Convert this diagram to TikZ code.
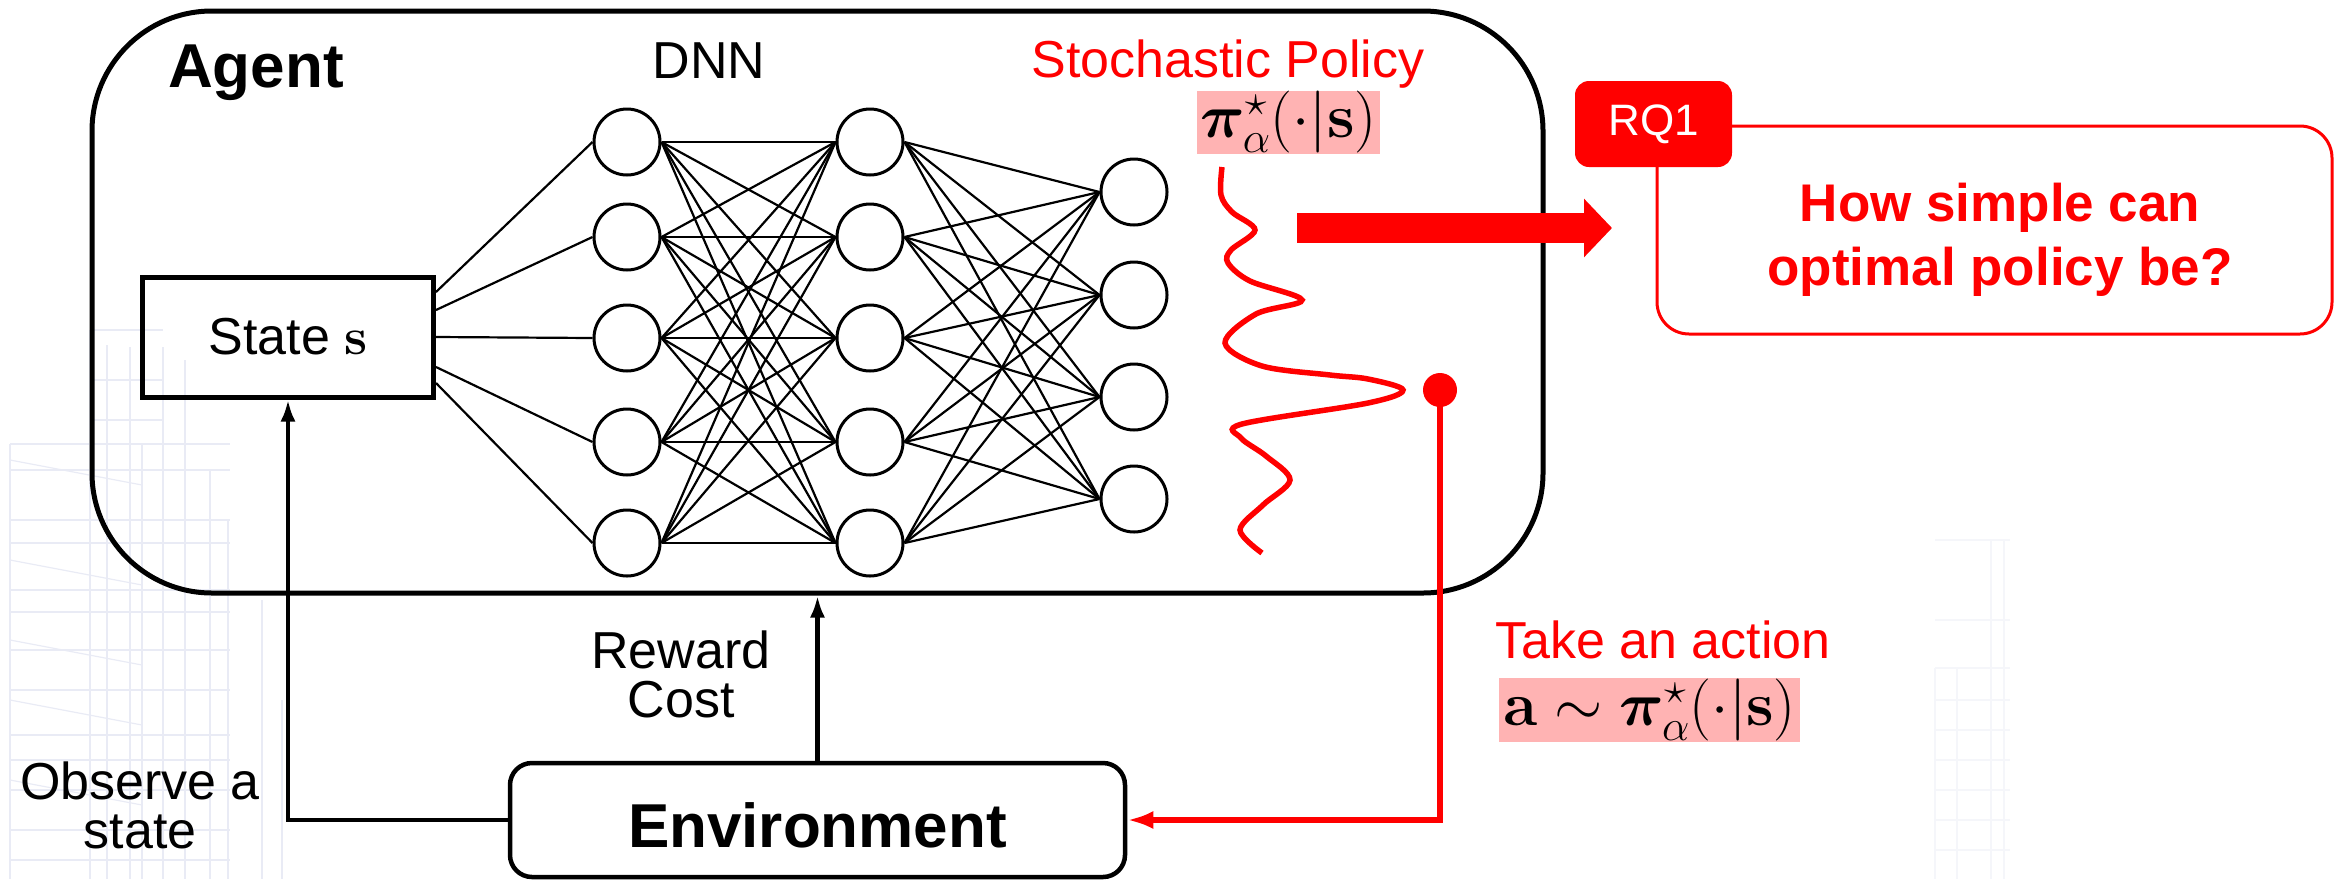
\RequirePackage{fix-cm}
\documentclass[tikz,border=0pt]{standalone}
\usepackage{amsmath,bm}
\usepackage[no-math]{fontspec}
\setmainfont{Liberation Sans}
\usetikzlibrary{arrows.meta,calc}
\definecolor{pinkbg}{RGB}{255,179,179}
\definecolor{wm}{RGB}{233,235,245}
\definecolor{wmr}{RGB}{245,246,250}
\begin{document}
\begin{tikzpicture}[x=1pt,y=-1pt,
  reg/.style={font=\fontsize{52}{49}\selectfont, inner sep=0},
  boldbig/.style={font=\bfseries\fontsize{62}{70}\selectfont, inner sep=0},
  boldq/.style={font=\bfseries\fontsize{53}{64}\selectfont, inner sep=0},
  mathbig/.style={font=\fontsize{62}{70}\selectfont},
  neuron/.style={circle, draw, line width=3, minimum size=66, inner sep=0, fill=white},
  conn/.style={line width=2.2},
  thick arrow/.style={line width=4.5, -{Latex[length=22,width=15]}},
  wmline/.style={draw=wm, line width=1.2},
  pinkbox/.style={fill=pinkbg, inner sep=0, mathbig}
]
\useasboundingbox (0,0) rectangle (2334,879);

% faint background watermark
\foreach \x/\t in {10/444, 90/330, 107/345, 130/347, 142/444, 163/347, 185/360, 210/470, 228/520, 262/600, 282/700}
  \draw[wmline] (\x,\t) -- (\x,879);
\foreach \y in {444,470,520,543,590,612,650,690,735,760,790,830,860}
  \draw[wmline] (10,\y) -- (230,\y);
\foreach \y in {330,380,420}
  \draw[wmline] (90,\y) -- (163,\y);
\foreach \y in {460,560,640,700,780}
  \draw[wmline] (10,\y) -- (142,\y+25);
\foreach \x/\t in {1935/668, 1957/668, 1991/540, 2004/540}
  \draw[draw=wmr, line width=1.2] (\x,\t) -- (\x,879);
\foreach \y in {540,620,668,700,730,760,790,820,850}
  \draw[draw=wmr, line width=1.2] (1935,\y) -- (2010,\y);

% agent box
\node[draw, line width=5, rounded corners=120, minimum width=1451, minimum height=582, inner sep=0] (agent) at (817.5,302) {};
\node[boldbig, anchor=base west] (agentlbl) at (168,87) {Agent};

% state box
\node[draw, line width=5, minimum width=291, minimum height=120, inner sep=0, reg] (state) at (288,337) {State $\mathbf{s}$};

% DNN
\node[reg, anchor=base] (dnn) at (709,78) {DNN};
\foreach \y [count=\i] in {142,237,338,442,543} {
  \node[neuron] (a\i) at (627,\y) {};
  \node[neuron] (b\i) at (870,\y) {};
}
\foreach \y [count=\i] in {192,295,397,499}
  \node[neuron] (c\i) at (1134,\y) {};
\foreach \s [count=\i] in {45,27,0,-30,-46}
  \draw[conn] ([yshift=\s pt]state.east) -- (a\i.west);
\foreach \i in {1,...,5} {
  \foreach \j in {1,...,5} \draw[conn] (a\i.east) -- (b\j.west);
  \foreach \j in {1,...,4} \draw[conn] (b\i.east) -- (c\j.west);
}

% stochastic policy
\node[reg, text=red, anchor=base] (stoch) at (1228,77) {Stochastic Policy};
\node[pinkbox, minimum width=183, minimum height=63] (pi) at (1288.5,122) {$\bm{\pi}^{\star}_{\alpha}(\cdot|\mathbf{s})$};
\draw[red, line width=5.5] plot[smooth, tension=0.55] coordinates {
  (1222,167) (1221,195) (1232,212) (1255,230) (1231,250) (1228,263) (1250,281) (1302,300)
  (1256,314) (1225,343) (1262,366) (1330,375) (1368,379) (1403,390) (1368,403) (1242,424)
  (1241,438) (1266,456) (1290,480) (1263,505) (1240,530) (1262,553)};

% action dot and line
\node[circle, fill=red, minimum size=34, inner sep=0] (dot) at (1440,390) {};

% environment
\node[draw, line width=4.5, rounded corners=22, minimum width=615, minimum height=114, inner sep=0, boldbig, text height=54, text depth=0] (env) at (817.5,820) {Environment};
\draw[thick arrow] (env.west) -| (state.south);
\draw[thick arrow] (env.north) -- (env.north |- agent.south);
\draw[red, line width=6, -{Latex[length=26,width=18]}] (dot.center) |- (env.east);

\node[reg, align=center] (rew) at (681,674) {Reward\\Cost};
\node[reg, align=center] (obs) at (140,805) {Observe a\\state};

\node[reg, text=red, anchor=base west] (take) at (1495,658) {Take an action};
\node[pinkbox, minimum width=301, minimum height=64] (act) at (1649.5,710) {$\mathbf{a}\sim\bm{\pi}^{\star}_{\alpha}(\cdot|\mathbf{s})$};

% RQ1 box
\node[draw=red, line width=3, rounded corners=32, minimum width=675, minimum height=208, inner sep=0, fill=white] (q) at (1994.5,230) {};
\node[boldq, text=red, align=center] (qt) at (2000,240) {How simple can\\optimal policy be?};
\node[fill=red, rounded corners=14, minimum width=157, minimum height=86, inner sep=0, text=white, font=\fontsize{44}{50}\selectfont] (rq) at (1653.5,124) {RQ1};

% thick red arrow
\coordinate (barS) at (1297,228);
\coordinate (barE) at (1612,228);
\draw[red, line width=30, -{Triangle[length=28,width=57]}] (barS) -- (barE);
\end{tikzpicture}
\end{document}
